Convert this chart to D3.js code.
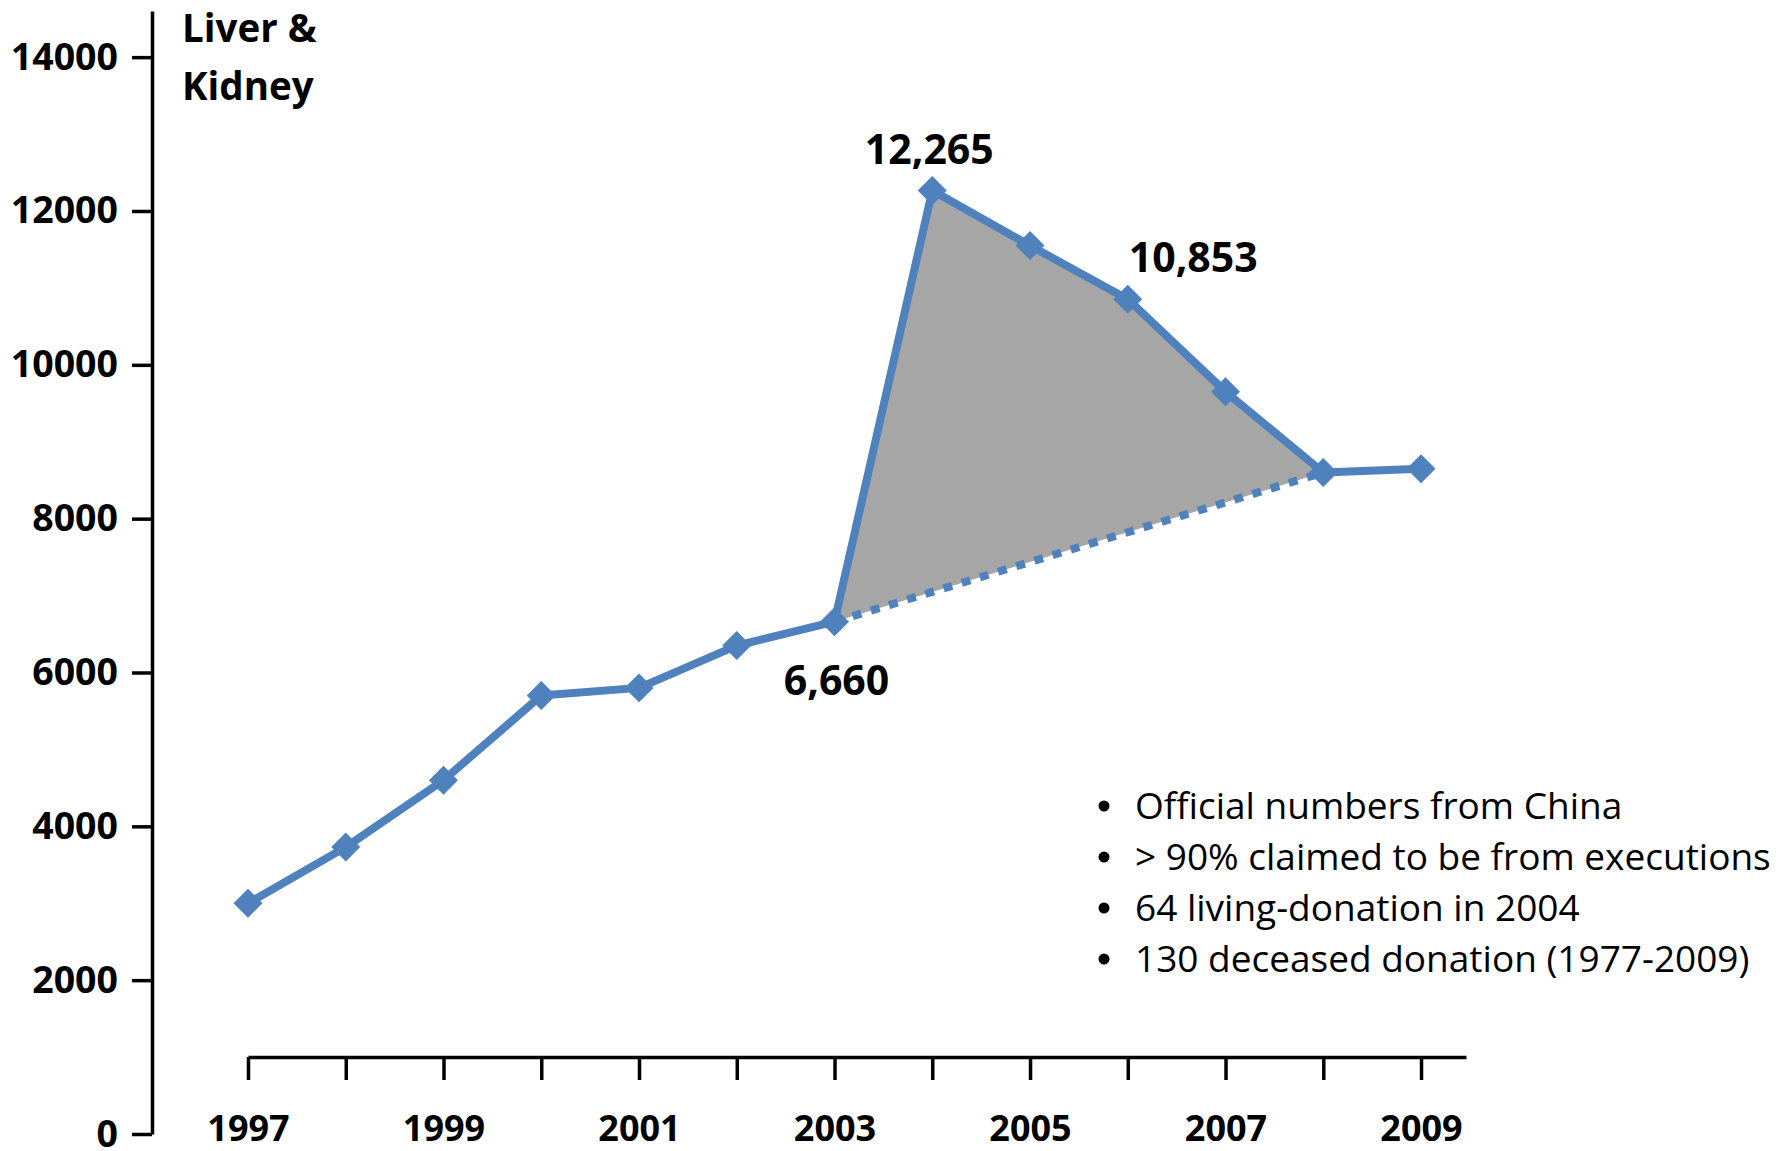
<!DOCTYPE html>
<html>
<head>
<meta charset="utf-8">
<script src="https://cdn.jsdelivr.net/npm/d3@7"></script>
<style>
  body { margin: 0; background: #fff; }
  svg { display: block; }
</style>
</head>
<body>
<svg width="1792" height="1151"></svg>
<script>
// chart data
var years = [1997, 1998, 1999, 2000, 2001, 2002, 2003, 2004, 2005, 2006, 2007, 2008, 2009];
var transplants = [3000, 3730, 4600, 5700, 5800, 6350, 6660, 12265, 11550, 10853, 9650, 8600, 8650];
var yTicks = [0, 2000, 4000, 6000, 8000, 10000, 12000, 14000];
var labelYears = [2003, 2004, 2006];
var labelText = ["6,660", "12,265", "10,853"];
var shadeFrom = 2003, shadeTo = 2008;
var title = ["Liver &", "Kidney"];
var notes = [
  "Official numbers from China",
  "> 90% claimed to be from executions",
  "64 living-donation in 2004",
  "130 deceased donation (1977-2009)"
];

var font = "'Open Sans', Lato, sans-serif";
var blue = "#4f81bd";

var svg = d3.select("svg");

var data = years.map(function(d, i) { return {year: d, value: transplants[i]}; });

var x = d3.scaleLinear()
    .domain([1997, 2009.46])
    .range([248, 1466]);

var y = d3.scaleLinear()
    .domain([0, 14600])
    .range([1134, 11]);

var line = d3.line()
    .x(function(d) { return x(d.year); })
    .y(function(d) { return y(d.value); });

// y axis
var yAxis = svg.append("g")
    .attr("transform", "translate(152,0)")
    .call(d3.axisLeft(y).tickValues(yTicks).tickFormat(d3.format("d")).tickSize(20).tickSizeOuter(0).tickPadding(14));

// x axis
var xAxis = svg.append("g")
    .attr("transform", "translate(0,1057)")
    .call(d3.axisBottom(x).tickValues(years)
      .tickFormat(function(d) { return d % 2 ? d : ""; })
      .tickSize(23).tickSizeOuter(0).tickPadding(35));

svg.selectAll(".domain, .tick line")
    .attr("stroke", "#000")
    .attr("stroke-width", 3.5);

svg.selectAll(".tick text")
    .attr("font-family", font)
    .attr("font-weight", "bold")
    .attr("font-size", 36)
    .attr("fill", "#000");

yAxis.selectAll(".tick text").attr("font-size", 37.5);

// shaded gap between the reported line and the straight trend
var shade = data.filter(function(d) { return d.year >= shadeFrom && d.year <= shadeTo; });

svg.append("path")
    .datum(shade)
    .attr("fill", "#a6a6a6")
    .attr("d", line.curve(d3.curveLinearClosed));

line.curve(d3.curveLinear);

svg.append("path")
    .datum([shade[0], shade[shade.length - 1]])
    .attr("fill", "none")
    .attr("stroke", blue)
    .attr("stroke-width", 8)
    .attr("stroke-dasharray", "9,10")
    .attr("d", line);

svg.append("path")
    .datum(data)
    .attr("fill", "none")
    .attr("stroke", blue)
    .attr("stroke-width", 8)
    .attr("stroke-linejoin", "round")
    .attr("d", line);

svg.selectAll(".marker")
    .data(data)
  .enter().append("path")
    .attr("class", "marker")
    .attr("fill", blue)
    .attr("transform", function(d) { return "translate(" + x(d.year) + "," + y(d.value) + ") rotate(45)"; })
    .attr("d", d3.symbol(d3.symbolSquare, 420));

// value labels
var lab = labelYears.map(function(yr, i) {
  var d = data[years.indexOf(yr)];
  return {year: yr, value: d.value, text: labelText[i]};
});

svg.selectAll(".vlabel")
    .data(lab)
  .enter().append("text")
    .attr("class", "vlabel")
    .attr("font-family", font)
    .attr("font-weight", "bold")
    .attr("font-size", 41)
    .attr("text-anchor", function(d) { return d.year == 2006 ? "start" : "middle"; })
    .attr("x", function(d) { return d.year == 2006 ? x(d.year) + 1 : x(d.year) + (d.year == 2003 ? 2 : -3); })
    .attr("y", function(d) { return d.year == 2003 ? y(d.value) + 73 : y(d.value) - 27; })
    .text(function(d) { return d.text; });

// title
svg.append("text")
    .attr("font-family", font)
    .attr("font-weight", "bold")
    .attr("font-size", 38.5)
    .attr("x", 182)
    .selectAll("tspan")
    .data(title)
  .enter().append("tspan")
    .attr("x", 182)
    .attr("y", function(d, i) { return 42 + i * 58; })
    .text(function(d) { return d; });

// notes
var note = svg.append("g")
    .attr("font-family", font)
    .attr("font-size", 37)
    .selectAll("g")
    .data(notes)
  .enter().append("g")
    .attr("transform", function(d, i) { return "translate(0," + (819 + i * 51) + ")"; });

note.append("circle")
    .attr("cx", 1104)
    .attr("cy", -13)
    .attr("r", 5.5)
    .attr("fill", "#000");

note.append("text")
    .attr("x", 1135)
    .attr("fill", "#000")
    .text(function(d) { return d; });
</script>
</body>
</html>
